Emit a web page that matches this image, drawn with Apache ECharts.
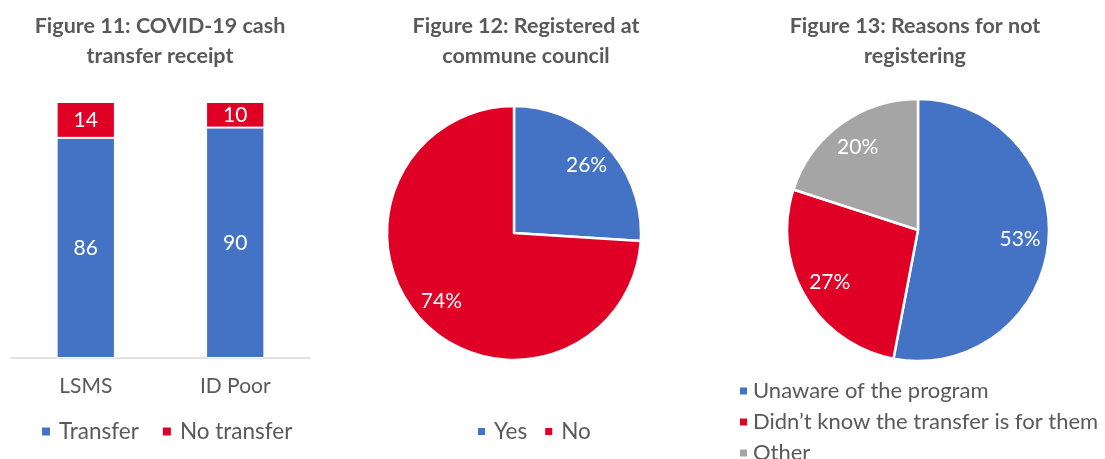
<!DOCTYPE html>
<html>
<head>
<meta charset="utf-8">
<title>COVID-19 cash transfer figures</title>
<script src="https://cdn.jsdelivr.net/npm/echarts@6/dist/echarts.min.js"></script>
<style>
  html, body { margin: 0; padding: 0; background: #ffffff; }
  #chart { width: 1105px; height: 459px; }
</style>
</head>
<body>
<div id="chart"></div>
<script>
// Figure 11: stacked bars
const barCategories = ['LSMS', 'ID Poor'];
const transferValues = [86, 90];
const noTransferValues = [14, 10];

// Figure 12: registration pie
const registeredLabels = ['Yes', 'No'];
const registeredValues = [26, 74];

// Figure 13: reasons pie
const reasonLabels = ['Unaware of the program', 'Didn\u2019t know the transfer is for them', 'Other'];
const reasonValues = [53, 27, 20];

const BLUE = '#4472C4';
const RED = '#E00025';
const GREY = '#A5A5A5';
const TEXT = '#595959';
const FONT = 'Lato, "Open Sans", sans-serif';

const registeredColors = [BLUE, RED];
const reasonColors = [BLUE, RED, GREY];

function pieData(labels, values, colors) {
  return labels.map((name, i) => ({ name, value: values[i], itemStyle: { color: colors[i] } }));
}

// A slice pie without labels, plus a see-through ring of the same data whose
// inside labels sit at roughly three quarters of the radius.
function pieSeries(labels, values, colors, center, r) {
  return [
    {
      type: 'pie',
      center: center,
      radius: [0, r],
      startAngle: 90,
      clockwise: true,
      silent: true,
      label: { show: false },
      labelLine: { show: false },
      itemStyle: { borderColor: '#ffffff', borderWidth: 2.5 },
      data: pieData(labels, values, colors)
    },
    {
      type: 'pie',
      center: center,
      radius: [r * 0.62, r * 0.90],
      startAngle: 90,
      clockwise: true,
      silent: true,
      legendHoverLink: false,
      itemStyle: { color: 'rgba(0,0,0,0)', borderWidth: 0 },
      label: {
        show: true,
        position: 'inside',
        formatter: '{c}%',
        color: '#ffffff',
        fontFamily: FONT,
        fontSize: 21
      },
      labelLine: { show: false },
      data: labels.map((name, i) => ({ name, value: values[i] }))
    }
  ];
}

const titleStyle = {
  fontFamily: FONT,
  fontSize: 21.5,
  fontWeight: 'bold',
  color: TEXT,
  lineHeight: 30
};

const legendText = { fontFamily: FONT, fontSize: 22.5, color: TEXT, padding: [0, 0, 0, 3] };
const reasonLegendText = { fontFamily: FONT, fontSize: 22, color: TEXT, padding: 0 };

const chart = echarts.init(document.getElementById('chart'), null, { renderer: 'canvas' });

chart.setOption({
  animation: false,
  backgroundColor: '#ffffff',
  title: [
    { text: 'Figure 11: COVID-19 cash\ntransfer receipt', left: 160, top: 11, padding: 0, textAlign: 'center', textStyle: titleStyle },
    { text: 'Figure 12: Registered at\ncommune council', left: 526, top: 11, padding: 0, textAlign: 'center', textStyle: titleStyle },
    { text: 'Figure 13: Reasons for not\nregistering', left: 915, top: 11, padding: 0, textAlign: 'center', textStyle: titleStyle }
  ],
  legend: [
    {
      data: ['Transfer', 'No transfer'],
      left: 40, top: 420, padding: 0,
      icon: 'rect', itemWidth: 10, itemHeight: 10, itemGap: 22,
      textStyle: legendText
    },
    {
      data: registeredLabels,
      left: 476, top: 420, padding: 0,
      icon: 'rect', itemWidth: 9, itemHeight: 9, itemGap: 16,
      textStyle: legendText
    },
    {
      data: reasonLabels,
      orient: 'vertical',
      left: 738, top: 380, height: 150, padding: 0,
      icon: 'rect', itemWidth: 9, itemHeight: 9, itemGap: 9,
      textStyle: reasonLegendText
    }
  ],
  grid: { left: 11, top: 102, width: 299, height: 256, containLabel: false },
  xAxis: {
    type: 'category',
    data: barCategories,
    axisLine: { show: true, lineStyle: { color: '#D9D9D9', width: 1.5 } },
    axisTick: { show: false },
    axisLabel: { color: TEXT, fontFamily: FONT, fontSize: 21, margin: 18 }
  },
  yAxis: {
    type: 'value',
    min: 0, max: 100,
    show: false,
    splitLine: { show: false }
  },
  series: [
    {
      name: 'Transfer',
      type: 'bar',
      stack: 'receipt',
      barWidth: '39%',
      data: transferValues,
      itemStyle: { color: BLUE, borderColor: '#ffffff', borderWidth: 1 },
      label: { show: true, position: 'inside', color: '#ffffff', fontFamily: FONT, fontSize: 21 }
    },
    {
      name: 'No transfer',
      type: 'bar',
      stack: 'receipt',
      barWidth: '39%',
      data: noTransferValues,
      itemStyle: { color: RED, borderColor: '#ffffff', borderWidth: 1 },
      label: { show: true, position: 'inside', color: '#ffffff', fontFamily: FONT, fontSize: 21 }
    },
    ...pieSeries(registeredLabels, registeredValues, registeredColors, [514, 233], 127),
    ...pieSeries(reasonLabels, reasonValues, reasonColors, [918, 230], 131)
  ]
});
</script>
</body>
</html>
